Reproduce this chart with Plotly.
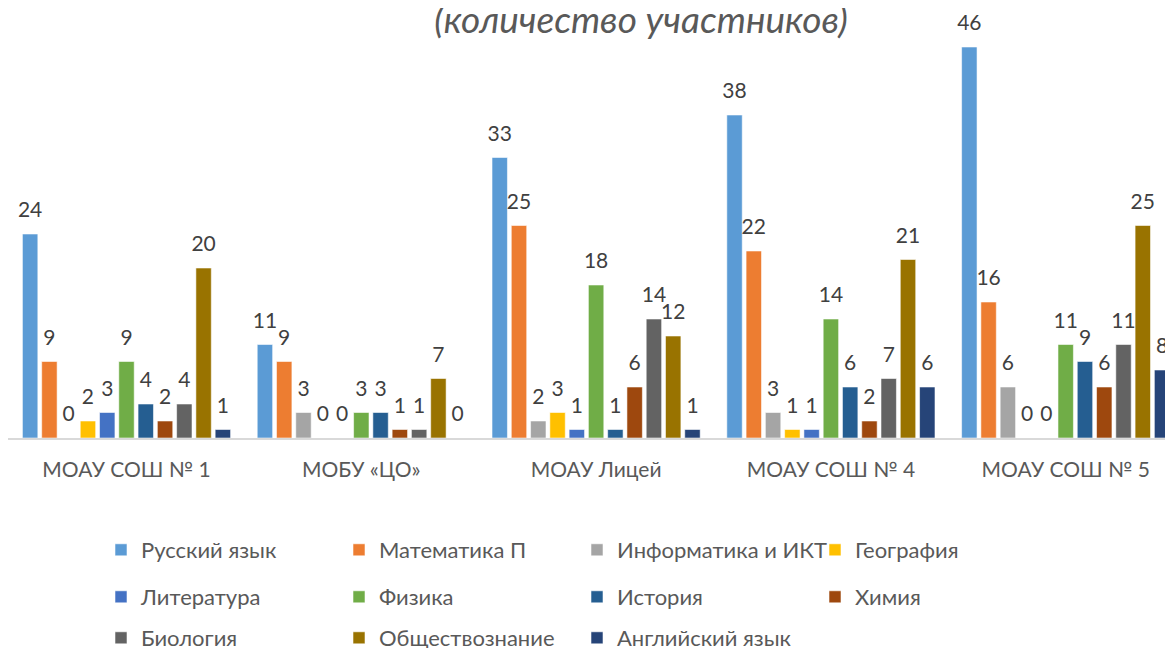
import plotly.graph_objects as go

FONT = "Lato, 'Open Sans', sans-serif"

schools = ["МОАУ СОШ № 1", "МОБУ «ЦО»", "МОАУ Лицей", "МОАУ СОШ № 4", "МОАУ СОШ № 5"]

subjects = [
    "Русский язык", "Математика П", "Информатика и ИКТ", "География",
    "Литература", "Физика", "История", "Химия",
    "Биология", "Обществознание", "Английский язык",
]

colors = [
    "#5B9BD5", "#ED7D31", "#A5A5A5", "#FFC000",
    "#4472C4", "#70AD47", "#255E91", "#9E480E",
    "#636363", "#997300", "#264478",
]

# участники по предметам, по школам в порядке schools
russian = [24, 11, 33, 38, 46]
math_p = [9, 9, 25, 22, 16]
informatics = [0, 3, 2, 3, 6]
geography = [2, 0, 3, 1, 0]
literature = [3, 0, 1, 1, 0]
physics = [9, 3, 18, 14, 11]
history = [4, 3, 1, 6, 9]
chemistry = [2, 1, 6, 2, 6]
biology = [4, 1, 14, 7, 11]
social = [20, 7, 12, 21, 25]
english = [1, 0, 1, 6, 8]

series = [russian, math_p, informatics, geography, literature, physics,
          history, chemistry, biology, social, english]

legend_rows = ["legend", "legend", "legend", "legend",
               "legend2", "legend2", "legend2", "legend2",
               "legend3", "legend3", "legend3"]


def label(v):
    # number on top, with a small invisible line under it to lift it off the bar
    return (f"<span style='font-size:21px'>{v}</span><br>"
            "<span style='color:rgba(0,0,0,0)'>.</span>")


fig = go.Figure()
for name, vals, col, lg in zip(subjects, series, colors, legend_rows):
    fig.add_trace(go.Bar(
        name=name,
        x=schools,
        y=vals,
        marker=dict(color=col, line=dict(color="rgba(255,255,255,0.55)", width=1)),
        text=[label(v) for v in vals],
        textposition="outside",
        constraintext="none",
        textfont=dict(family=FONT, size=9, color="#404040"),
        cliponaxis=False,
        legend=lg,
    ))

# page has an 8px body margin, so figure coords = page coords - 8
OFF = 8
H = 648
top, bottom = 13 - OFF, 438 - OFF
span = bottom - top


def ly(py_page):
    return (bottom - (py_page - OFF)) / span


legend_common = dict(
    orientation="h",
    xanchor="left",
    yanchor="middle",
    x=93 / 1173,
    entrywidth=193,
    entrywidthmode="pixels",
    font=dict(family=FONT, size=22, color="#595959"),
    bgcolor="rgba(0,0,0,0)",
    itemclick=False,
)

fig.update_layout(
    width=1173,
    height=H,
    barmode="group",
    bargap=0.097,
    bargroupgap=0.2,
    plot_bgcolor="white",
    paper_bgcolor="white",
    margin=dict(l=0, r=0, t=top, b=H - bottom, pad=0, autoexpand=False),
    title=dict(
        text="<i>(количество участников)</i>",
        x=633 / 1173,
        xanchor="center",
        y=1 - 12 / H,
        yanchor="middle",
        font=dict(family=FONT, size=37, color="#595959"),
    ),
    legend=dict(legend_common, y=ly(550)),
    legend2=dict(legend_common, y=ly(597)),
    legend3=dict(legend_common, y=ly(638)),
)

cat_w = 234.8
x0 = -0.5 - 1.1 / cat_w
fig.update_xaxes(
    range=[x0, x0 + 1173 / cat_w],
    showline=True,
    linecolor="#D9D9D9",
    linewidth=1.5,
    showgrid=False,
    ticks="",
    ticklabelstandoff=12,
    tickfont=dict(family=FONT, size=21, color="#595959"),
)
fig.update_yaxes(
    range=[0, 50],
    visible=False,
    showgrid=False,
    zeroline=False,
)

fig.write_html("out.html")
